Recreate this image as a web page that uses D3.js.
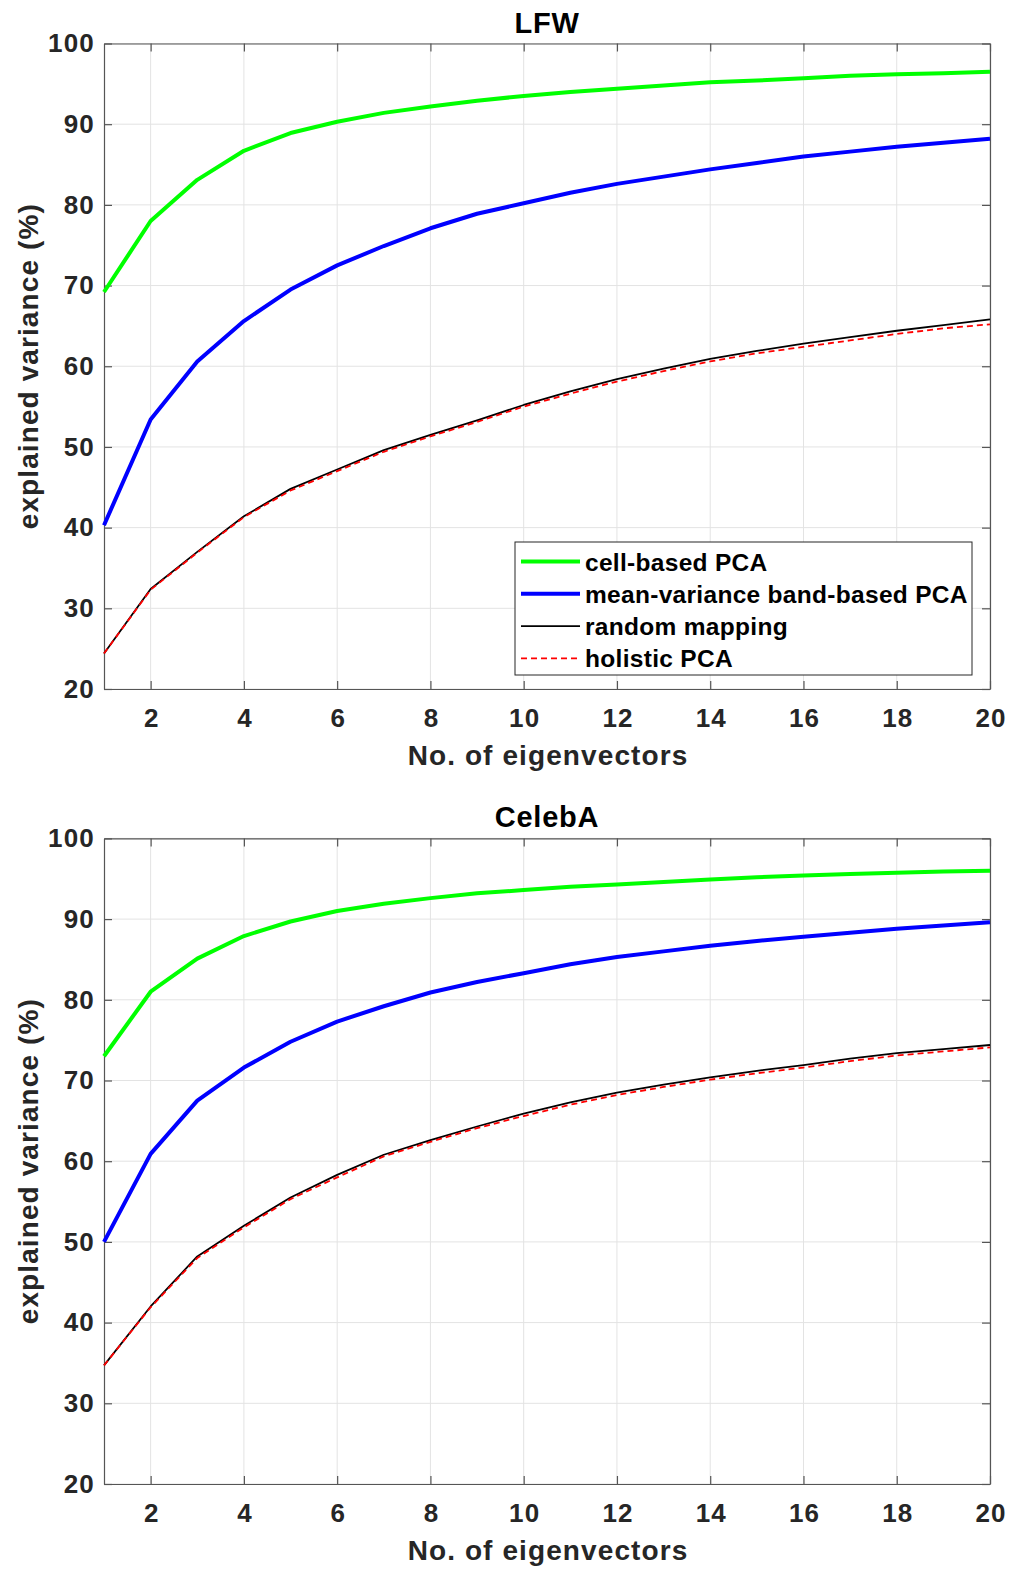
<!DOCTYPE html>
<html><head><meta charset="utf-8">
<script src="https://cdn.jsdelivr.net/npm/d3@7"></script>
<style>
body{margin:0;background:#fff;}
svg text{font-family:"Liberation Sans",Arial,Helvetica,sans-serif;font-weight:bold;}
</style></head>
<body>
<svg id="c" width="1016" height="1571"></svg>
<script>
const eigenvectors = [1,2,3,4,5,6,7,8,9,10,11,12,13,14,15,16,17,18,19,20];
const xTicks = [2,4,6,8,10,12,14,16,18,20];
const yTicks = [20,30,40,50,60,70,80,90,100];
const seriesNames = ["cell-based PCA","mean-variance band-based PCA","random mapping","holistic PCA"];

const lfwCell      = [69.2,78.0,83.1,86.7,88.9,90.3,91.4,92.2,92.9,93.5,94.0,94.4,94.8,95.2,95.4,95.7,96.0,96.2,96.3,96.5];
const lfwBand      = [40.3,53.4,60.6,65.6,69.5,72.5,74.9,77.1,78.9,80.2,81.5,82.6,83.5,84.4,85.2,86.0,86.6,87.2,87.7,88.2];
const lfwRandom    = [24.4,32.4,37.0,41.4,44.8,47.2,49.6,51.5,53.3,55.2,56.9,58.4,59.7,60.9,61.9,62.8,63.6,64.4,65.1,65.8];
const lfwHolistic  = [24.4,32.3,36.9,41.3,44.6,47.0,49.4,51.3,53.1,55.0,56.6,58.1,59.4,60.6,61.6,62.4,63.2,64.0,64.7,65.2];

const celebCell     = [73.0,81.0,85.1,87.9,89.7,91.0,91.9,92.6,93.2,93.6,94.0,94.3,94.6,94.9,95.2,95.4,95.6,95.75,95.9,96.0];
const celebBand     = [50.0,60.9,67.5,71.6,74.8,77.3,79.2,80.9,82.2,83.3,84.4,85.3,86.0,86.7,87.3,87.8,88.3,88.8,89.2,89.6];
const celebRandom   = [34.7,42.0,48.2,52.0,55.5,58.3,60.8,62.6,64.3,65.9,67.3,68.5,69.5,70.4,71.2,71.9,72.7,73.4,73.9,74.4];
const celebHolistic = [34.7,41.9,48.0,51.8,55.3,58.0,60.6,62.4,64.1,65.6,67.0,68.2,69.2,70.1,70.9,71.6,72.4,73.1,73.6,74.1];

const styles = [
  {color:"#00ff00", width:4, dash:null},
  {color:"#0000ff", width:4, dash:null},
  {color:"#000000", width:1.8, dash:null},
  {color:"#ff0000", width:1.8, dash:"6,4"}
];

const svg = d3.select("#c");
const left = 104, right = 990;

function panel(title, top, bottom, series, showLegend){
  const x = d3.scaleLinear().domain([1,20]).range([left,right]);
  const y = d3.scaleLinear().domain([20,100]).range([bottom,top]);
  const g = svg.append("g");
  // grid
  g.append("g").selectAll("line").data(xTicks).join("line")
    .attr("x1",d=>x(d)).attr("x2",d=>x(d)).attr("y1",top).attr("y2",bottom)
    .attr("stroke","#e3e3e3").attr("stroke-width",1);
  g.append("g").selectAll("line").data(yTicks).join("line")
    .attr("x1",left).attr("x2",right).attr("y1",d=>y(d)).attr("y2",d=>y(d))
    .attr("stroke","#e3e3e3").attr("stroke-width",1);
  // axes
  const axB = d3.axisBottom(x).tickValues(xTicks).tickSizeInner(-8).tickSizeOuter(0).tickPadding(18);
  const axT = d3.axisTop(x).tickValues(xTicks).tickSizeInner(-8).tickSizeOuter(0).tickFormat("");
  const axL = d3.axisLeft(y).tickValues(yTicks).tickSizeInner(-8).tickSizeOuter(0).tickPadding(18);
  const axR = d3.axisRight(y).tickValues(yTicks).tickSizeInner(-8).tickSizeOuter(0).tickFormat("");
  const gb = g.append("g").attr("transform",`translate(0,${bottom})`).call(axB);
  const gt = g.append("g").attr("transform",`translate(0,${top})`).call(axT);
  const gl = g.append("g").attr("transform",`translate(${left},0)`).call(axL);
  const gr = g.append("g").attr("transform",`translate(${right},0)`).call(axR);
  [gb,gt,gl,gr].forEach(a=>{
    a.selectAll("path,line").attr("stroke","#555").attr("stroke-width",1.2);
    a.selectAll("text").attr("fill","#262626").style("font-size","26px")
      .style("letter-spacing","1.2px")
      .style("font-family","'Liberation Sans',Arial,sans-serif").style("font-weight","bold");
  });
  gl.selectAll("text").attr("x",-9);
  gb.selectAll("text").attr("y",20).attr("dx","0.6px");
  // lines
  const line = d3.line().x((d,i)=>x(eigenvectors[i])).y(d=>y(d));
  series.forEach((s,i)=>{
    g.append("path").datum(s).attr("d",line).attr("fill","none")
      .attr("stroke",styles[i].color).attr("stroke-width",styles[i].width)
      .attr("stroke-dasharray",styles[i].dash).attr("stroke-linejoin","round");
  });
  // titles
  g.append("text").attr("x",(left+right)/2).attr("y",top-11).attr("text-anchor","middle")
    .style("font-size","29px").style("letter-spacing","0.8px").attr("fill","#000").text(title);
  g.append("text").attr("x",(left+right)/2+1).attr("y",bottom+76).attr("text-anchor","middle")
    .style("font-size","28px").style("letter-spacing","1.1px").attr("fill","#262626").text("No. of eigenvectors");
  g.append("text").attr("transform",`translate(38,${(top+bottom)/2}) rotate(-90)`).attr("text-anchor","middle")
    .style("font-size","28px").style("letter-spacing","1.1px").attr("fill","#262626").text("explained variance (%)");
  if(showLegend){
    const lx = 515, ly = 542, lw = 457, lh = 133;
    const lg = g.append("g");
    lg.append("rect").attr("x",lx).attr("y",ly).attr("width",lw).attr("height",lh)
      .attr("fill","#fff").attr("stroke","#262626").attr("stroke-width",1);
    seriesNames.forEach((n,i)=>{
      const cy = ly + 19.5 + i*32.3;
      lg.append("line").attr("x1",521).attr("x2",580).attr("y1",cy).attr("y2",cy)
        .attr("stroke",styles[i].color).attr("stroke-width",styles[i].width)
        .attr("stroke-dasharray",styles[i].dash);
      lg.append("text").attr("x",585).attr("y",cy+9).style("font-size","24.5px")
        .style("letter-spacing","0.3px").attr("fill","#000").text(n);
    });
  }
}

panel("LFW", 43.5, 689, [lfwCell,lfwBand,lfwRandom,lfwHolistic], true);
panel("CelebA", 838.4, 1484, [celebCell,celebBand,celebRandom,celebHolistic], false);
</script>
</body></html>
